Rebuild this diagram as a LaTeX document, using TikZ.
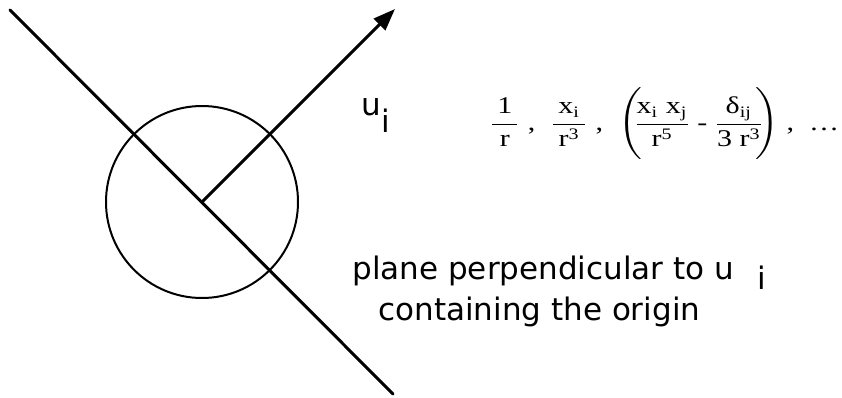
\documentclass[tikz,border=0pt]{standalone}
\usepackage{amsmath}
\usepackage{graphicx}
\usepackage{fontspec}
\setmainfont{Liberation Serif}
\newfontfamily\tagfont{DejaVu Sans}
\usetikzlibrary{arrows.meta}

\begin{document}
\begin{tikzpicture}[x=0.5pt, y=-0.5pt,
    planeline/.style={line width=1.5pt, line cap=round},
    ring/.style={line width=1pt},
    tag/.style={font=\tagfont\fontsize{15.5}{18}\selectfont, inner sep=0pt},
    formula/.style={font=\fontsize{12}{14}\selectfont, inner sep=0pt}
]
\useasboundingbox (0,0) rectangle (842,397);
% origin, plane and normal vector
\coordinate (o) at (202,202);
\coordinate (a) at (10,10);
\coordinate (b) at (393,394);
\coordinate (tip) at (395,9);
\draw [ring] (o) circle [radius=96];
\draw [planeline] (a) -- (b);
\draw [planeline, -{Triangle[length=11pt, width=8pt]}] (o) -- (tip);
% labels
\node (u) [tag, anchor=base west] at (361,115) {u\raisebox{-8.5pt}{i}};
\node (plane) [tag, anchor=base west] at (352,279)
    {plane perpendicular to u\hspace{12pt}\raisebox{-5pt}{i}};
\node (origin) [tag, anchor=base west] at (378,320) {containing the origin};
% multipole terms
\node (series) [formula, anchor=west] at (489,124) {\scalebox{1.25}[1]{%
    $\dfrac{\,\mathrm{1}\,}{\,\mathrm{r}\,}$\ , \ $\dfrac{\,\mathrm{x_i}\,}{\,\mathrm{r^3}\,}$\ , \
    $\Biggl(\mkern-5mu\dfrac{\mathrm{x_i\ x_j}}{\mathrm{r^5}}\mathbin{\text{-}}
    \dfrac{\,\text{δ}_{\mathrm{ij}}\,}{\mathrm{3\ r^3}}\mkern-5mu\Biggr)$\ , \ \ldots}};
\end{tikzpicture}
\end{document}
